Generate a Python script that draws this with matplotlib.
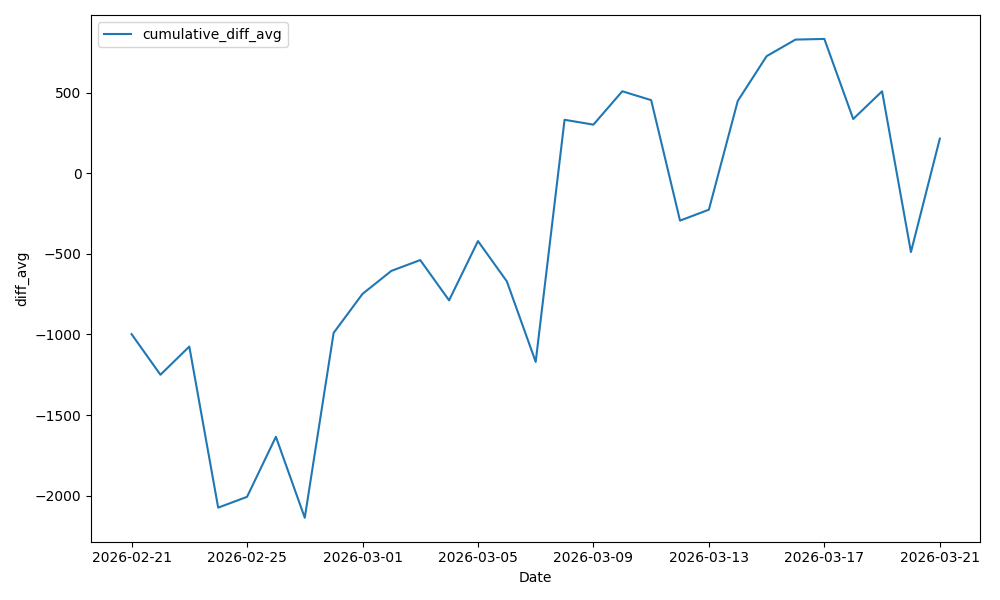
import pandas as pd
import matplotlib.pyplot as plt
import matplotlib.dates as mdates

# ======================
# DATA
# ======================
dates = pd.date_range("2026-02-21", "2026-03-21", freq="D")
cumulative_diff_avg = [
    -998, -1250, -1075, -2075, -2008, -1635, -2138, -990,
    -748, -605, -538, -788, -420, -670, -1170, 333,
    303, 510, 455, -293, -225, 450, 728, 831,
    835, 338, 510, -488, 216,
]

df = pd.DataFrame({"Date": dates, "cumulative_diff_avg": cumulative_diff_avg})

# ======================
# PLOT
# ======================
fig, ax = plt.subplots(figsize=(10, 6), dpi=100)
ax.plot(df["Date"], df["cumulative_diff_avg"], label="cumulative_diff_avg")

ax.xaxis.set_major_locator(mdates.DayLocator(interval=4))
ax.xaxis.set_major_formatter(mdates.DateFormatter("%Y-%m-%d"))
ax.set_xlabel("Date")
ax.set_ylabel("diff_avg")
ax.legend(loc="upper left")

plt.tight_layout()
plt.savefig("out.png")
